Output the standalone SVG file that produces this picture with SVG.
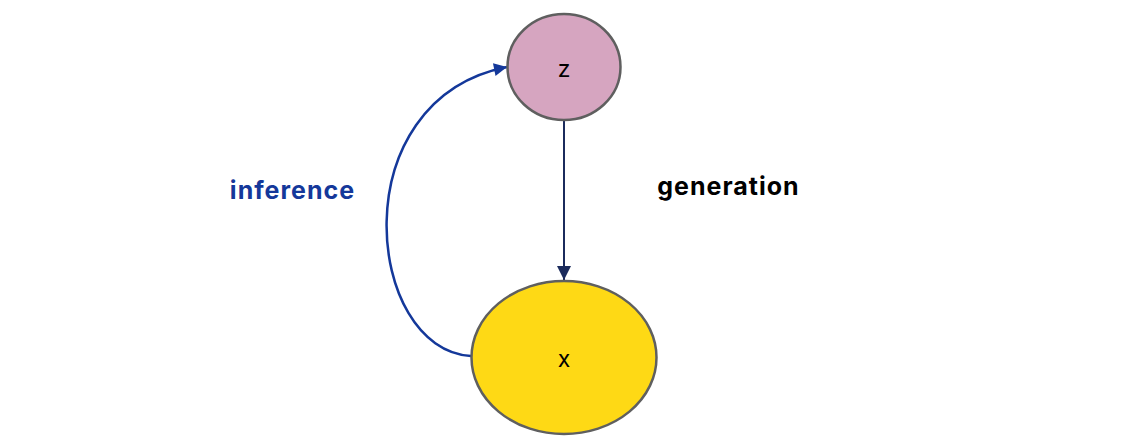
<svg xmlns="http://www.w3.org/2000/svg" width="1143" height="448" viewBox="0 0 1143 448">
<style>
.node{stroke:#5f5f5f;stroke-width:2.5}
.lbl{font-family:Inter,"Liberation Sans",sans-serif;font-size:23px;fill:#000;text-anchor:middle}
.edge-lbl{font-family:Inter,"Liberation Sans",sans-serif;font-size:25px;font-weight:bold;letter-spacing:1px}
</style>
<defs>
<marker id="ah-navy" viewBox="0 0 10 10" refX="10" refY="5" markerWidth="17" markerHeight="14" markerUnits="userSpaceOnUse" orient="auto"><path d="M0,0 L10,5 L0,10 z" fill="#1b2b5c"/></marker>
<marker id="ah-blue" viewBox="0 0 10 10" refX="10" refY="5" markerWidth="18" markerHeight="13" markerUnits="userSpaceOnUse" orient="auto"><path d="M0,0 L10,5 L0,10 z" fill="#14389a"/></marker>
</defs>
<rect width="1143" height="448" fill="#fff"/>
<g id="connectors">
<path d="M564,121 L564,280" stroke="#1b2b5c" stroke-width="2" fill="none" marker-end="url(#ah-navy)"/>
<path d="M471,356 C365,350 340,100 507,67" stroke="#14389a" stroke-width="2.5" fill="none" marker-end="url(#ah-blue)"/>
<text class="edge-lbl" x="292.5" y="199" text-anchor="middle" fill="#14389a">inference</text>
<text class="edge-lbl" x="728.5" y="195" text-anchor="middle" fill="#000">generation</text>
</g>
<g id="node-z">
<ellipse class="node" cx="564" cy="67" rx="56.5" ry="53" fill="#d6a5c0"/>
<text class="lbl" x="564" y="77">z</text>
</g>
<g id="node-x">
<ellipse class="node" cx="564" cy="357.5" rx="92.5" ry="76.5" fill="#fed915"/>
<text class="lbl" x="564" y="367">x</text>
</g>
</svg>
